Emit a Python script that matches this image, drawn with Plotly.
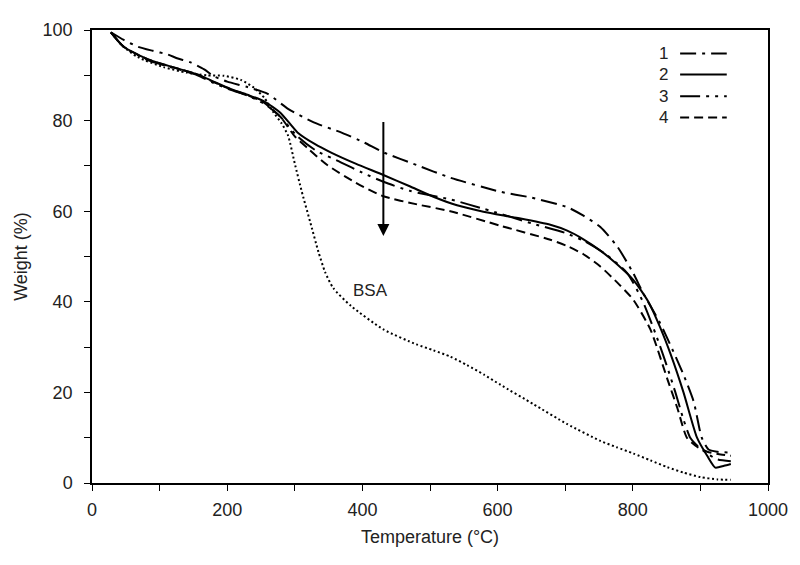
import plotly.graph_objects as go

# ---- data (Temperature in °C, Weight in %) ----
t1 = [28, 47, 68, 90, 112, 127, 145, 166, 180, 200, 230, 260, 290, 328, 370, 402, 431, 480, 530, 604, 650, 703, 727, 752, 777, 800, 815, 840, 860, 875, 890, 902, 912, 925, 945]
w1 = [99.5, 97.8, 96.3, 95.4, 94.6, 93.7, 92.9, 91.3, 89.8, 88.6, 87.4, 85.9, 82.6, 79.6, 77.3, 75.2, 73.0, 70.2, 67.4, 64.3, 63.0, 60.9, 59.0, 56.5, 52.2, 46.5, 42.0, 35.4, 29.0, 23.9, 18.0, 10.0, 7.4, 6.9, 6.7]

t2 = [28, 47, 83, 131, 156, 180, 205, 230, 254, 279, 304, 330, 353, 390, 431, 470, 505, 540, 579, 630, 678, 703, 727, 752, 775, 801, 823, 840, 857, 875, 895, 910, 922, 935, 945]
w2 = [99.5, 96.3, 93.5, 91.3, 90.2, 88.6, 87.0, 85.7, 84.3, 81.7, 77.4, 74.8, 73.0, 70.5, 68.0, 65.5, 63.2, 61.3, 59.9, 58.5, 57.0, 55.7, 53.8, 51.3, 48.5, 44.8, 40.0, 34.5, 28.0, 20.0, 10.0, 6.0, 3.4, 3.8, 4.2]

t3 = [28, 47, 83, 131, 156, 180, 205, 230, 254, 279, 304, 330, 368, 400, 431, 470, 530, 580, 653, 700, 727, 760, 792, 815, 836, 850, 863, 875, 885, 895, 910, 925, 945]
w3 = [99.5, 96.3, 93.3, 91.2, 90.0, 88.3, 86.8, 85.5, 83.8, 80.8, 76.5, 73.5, 70.8, 68.5, 66.5, 64.5, 62.6, 60.5, 57.2, 55.2, 53.5, 50.5, 46.3, 40.0, 32.0, 26.0, 20.0, 14.0, 10.0, 8.3, 6.5, 5.2, 4.8]

t4 = [28, 47, 83, 131, 156, 180, 205, 230, 254, 279, 300, 319, 348, 390, 431, 481, 530, 604, 678, 703, 727, 752, 780, 801, 826, 851, 866, 880, 895, 910, 930, 945]
w4 = [99.5, 96.3, 93.5, 91.3, 90.2, 88.5, 86.9, 85.6, 84.0, 80.8, 76.5, 73.9, 70.2, 66.3, 63.3, 61.5, 60.0, 56.8, 53.7, 52.3, 50.5, 47.8, 43.8, 40.4, 33.9, 23.0, 16.5, 10.0, 8.0, 6.9, 6.3, 6.0]

tb = [28, 45, 68, 106, 140, 170, 195, 220, 240, 255, 269, 280, 290, 300, 310, 323, 335, 345, 357, 383, 431, 480, 505, 530, 555, 580, 604, 653, 703, 752, 776, 801, 826, 851, 875, 900, 925, 945]
wb = [99.5, 96.5, 94.0, 91.8, 90.6, 90.0, 89.9, 89.0, 87.2, 85.0, 81.7, 79.5, 76.7, 70.5, 64.5, 57.5, 51.0, 46.5, 43.0, 39.1, 33.9, 30.6, 29.3, 27.9, 26.0, 23.9, 21.7, 17.4, 13.0, 9.3, 7.9, 6.5, 5.0, 3.5, 2.3, 1.3, 0.8, 0.7]

series_names = ["1", "2", "3", "4"]
x_ticks = [0, 200, 400, 600, 800, 1000]
y_ticks = [0, 20, 40, 60, 80, 100]

dash1 = "16px,6px,3px,6px"
dash2 = "solid"
dash3 = "20px,6px,3px,6px,3px,6px"
dash4 = "9px,5px"
dashb = "2px,2.6px"

FONT = "Liberation Sans, Arial, sans-serif"

fig = go.Figure()
for tx, wy, dsh, nm in [(t1, w1, dash1, "1"), (t2, w2, dash2, "2"), (t3, w3, dash3, "3"), (t4, w4, dash4, "4")]:
    fig.add_trace(go.Scatter(x=tx, y=wy, mode="lines", name=nm,
                             line=dict(color="black", width=2, dash=dsh, shape="spline", smoothing=0.6),
                             showlegend=False))
fig.add_trace(go.Scatter(x=tb, y=wb, mode="lines", name="BSA",
                         line=dict(color="black", width=2, dash=dashb, shape="spline", smoothing=0.6),
                         showlegend=False))

# custom legend (number left of line sample)
leg_y = [0.948, 0.902, 0.854, 0.807]
for nm, dsh, yy in zip(series_names, [dash1, dash2, dash3, dash4], leg_y):
    fig.add_annotation(x=0.845, y=yy, xref="paper", yref="paper", text=nm, showarrow=False,
                       font=dict(family=FONT, size=17, color="#222"), xanchor="center", yanchor="middle")
    fig.add_shape(type="line", xref="paper", yref="paper", x0=0.870, x1=0.939, y0=yy, y1=yy,
                  line=dict(color="black", width=2, dash=dsh))

# arrow and BSA label
fig.add_annotation(x=431, y=54.5, ax=431, ay=80, xref="x", yref="y", axref="x", ayref="y",
                   showarrow=True, arrowhead=2, arrowsize=1.2, arrowwidth=2, arrowcolor="black", text="")
fig.add_annotation(x=412, y=42.6, text="BSA", showarrow=False,
                   font=dict(family=FONT, size=17, color="#222"))

axis_common = dict(showline=True, linecolor="black", linewidth=1.5, mirror=True,
                   ticks="outside", ticklen=6, tickwidth=1, tickcolor="black",
                   showgrid=False, zeroline=False,
                   tickfont=dict(family=FONT, size=18, color="#222"))

fig.update_xaxes(range=[0, 1000], tickvals=x_ticks, ticktext=[str(v) for v in x_ticks],
                 minor=dict(dtick=100, ticks="outside", ticklen=6, tickcolor="black"),
                 title=dict(text="Temperature (°C)", font=dict(family=FONT, size=18, color="#222"), standoff=11),
                 ticklabelstandoff=4, **axis_common)
fig.update_yaxes(range=[0, 100], tickvals=y_ticks, ticktext=[str(v) for v in y_ticks],
                 minor=dict(dtick=10, ticks="outside", ticklen=6, tickcolor="black"),
                 title=dict(text="Weight (%)", font=dict(family=FONT, size=18, color="#222"), standoff=10),
                 ticklabelstandoff=8, **axis_common)

# page body has an 8px default margin, so offset the figure accordingly
fig.update_layout(width=792, height=557, margin=dict(l=83, r=32, t=15, b=82),
                  paper_bgcolor="white", plot_bgcolor="white", showlegend=False)

fig.write_html("out.html")
